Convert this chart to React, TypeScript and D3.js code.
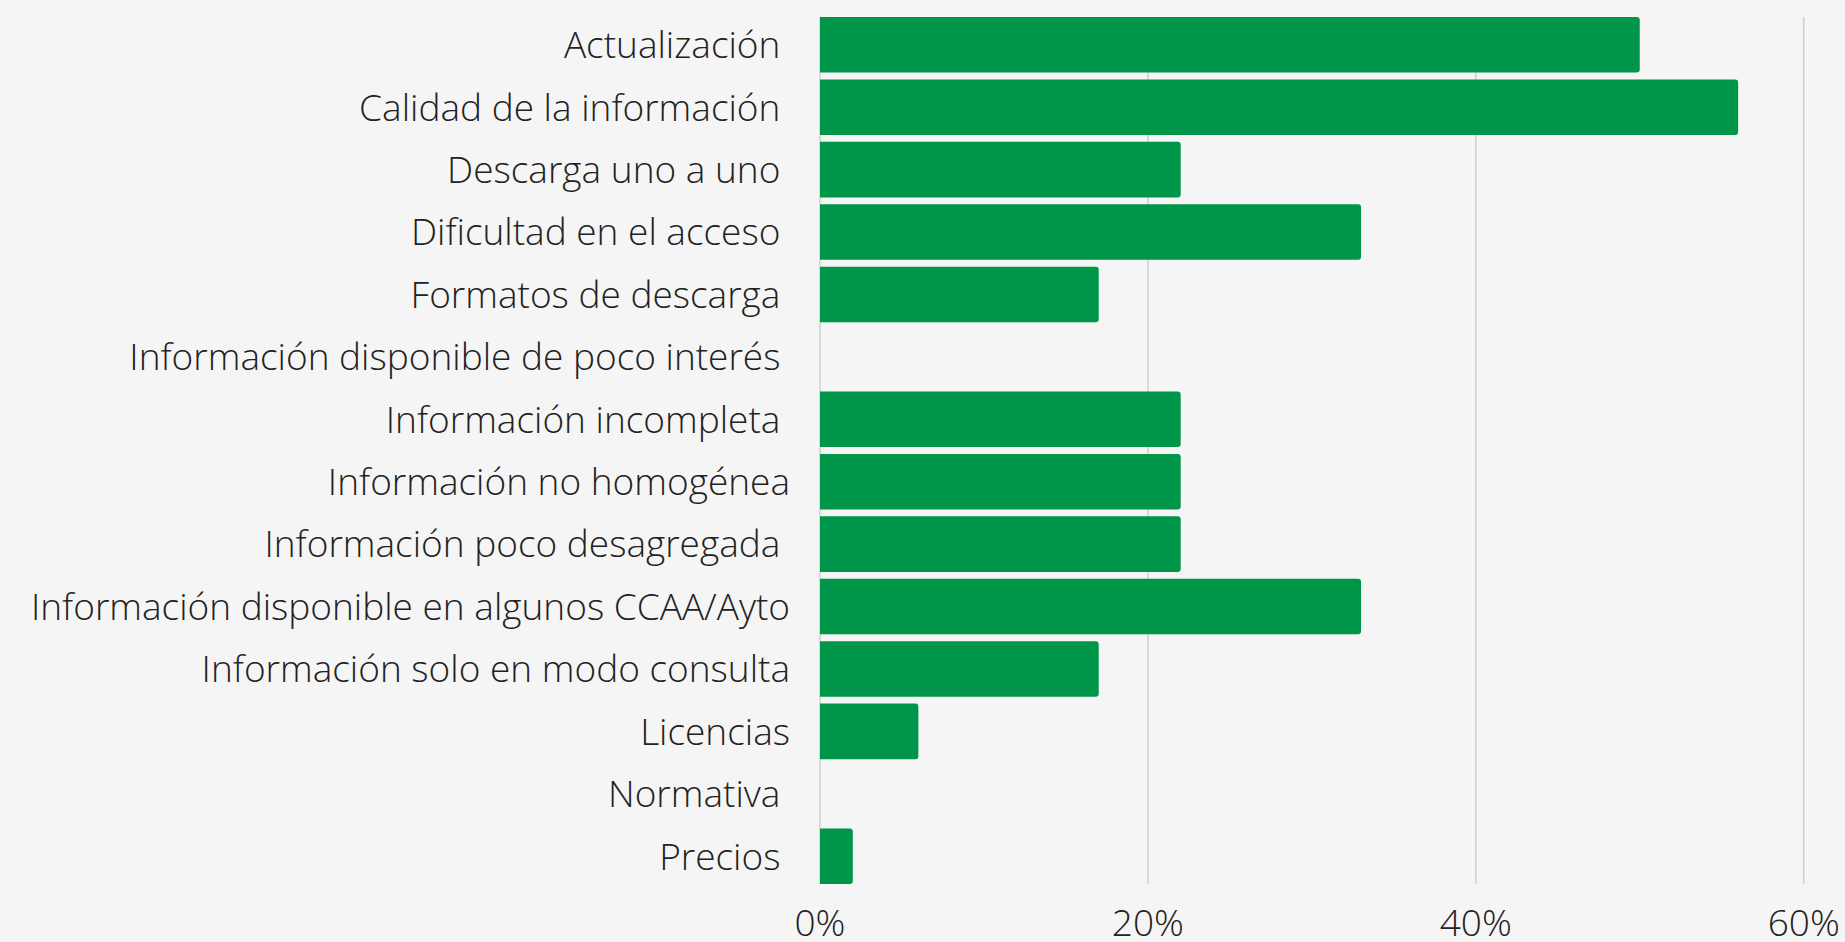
import React, { useEffect, useRef } from 'react';
import * as d3 from 'd3';

// categories (some source labels carry a trailing space)
const categories: string[] = [
  'Actualización ',
  'Calidad de la información ',
  'Descarga uno a uno ',
  'Dificultad en el acceso ',
  'Formatos de descarga ',
  'Información disponible de poco interés ',
  'Información incompleta ',
  'Información no homogénea',
  'Información poco desagregada ',
  'Información disponible en algunos CCAA/Ayto',
  'Información solo en modo consulta',
  'Licencias',
  'Normativa ',
  'Precios ',
];

// percentage of answers
const values: number[] = [50, 56, 22, 33, 17, 0, 22, 22, 22, 33, 17, 6, 0, 2];

const xTicks: number[] = [0, 20, 40, 60];

const W = 1845;
const H = 942;

const App = () => {
  const svgRef = useRef<SVGSVGElement>(null);

  useEffect(() => {
    const svg = d3.select(svgRef.current);
    svg.selectAll('*').remove();

    const left = 820;
    const right = 1803.7;
    const top = 17;
    const bottom = 884;

    const x = d3.scaleLinear().domain([0, 60]).range([left, right]);
    const y = d3.scaleBand<string>()
      .domain(categories)
      .range([top, bottom])
      .paddingInner(0.11)
      .paddingOuter(0);

    svg.append('rect')
      .attr('width', W)
      .attr('height', H)
      .attr('fill', '#f5f5f5');

    // gridlines
    svg.append('g')
      .selectAll('line')
      .data(xTicks)
      .enter().append('line')
      .attr('x1', d => x(d))
      .attr('x2', d => x(d))
      .attr('y1', top)
      .attr('y2', bottom)
      .attr('stroke', '#cfcfcf')
      .attr('stroke-width', 1.5);

    // bars, rounded on the right end
    const r = 3;
    const barPath = (v: number, yy: number, h: number) => {
      const x0 = x(0);
      const x1 = x(v);
      if (x1 - x0 <= 0) return '';
      const rr = Math.min(r, (x1 - x0) / 2);
      return `M${x0},${yy}H${x1 - rr}Q${x1},${yy} ${x1},${yy + rr}V${yy + h - rr}Q${x1},${yy + h} ${x1 - rr},${yy + h}H${x0}Z`;
    };

    svg.append('g')
      .selectAll('path')
      .data(categories)
      .enter().append('path')
      .attr('d', (d, i) => barPath(values[i], y(d)!, y.bandwidth()))
      .attr('fill', '#00964a');

    // category labels
    svg.append('g')
      .selectAll('text')
      .data(categories)
      .enter().append('text')
      .attr('x', left - 30)
      .attr('y', d => y(d)! + y.bandwidth() / 2)
      .attr('dy', '0.36em')
      .attr('text-anchor', 'end')
      .attr('xml:space', 'preserve')
      .style('white-space', 'pre')
      .attr('font-family', '"Open Sans", sans-serif')
      .attr('font-weight', 300)
      .attr('font-size', 37)
      .attr('fill', '#222')
      .text(d => d);

    // x tick labels
    svg.append('g')
      .selectAll('text')
      .data(xTicks)
      .enter().append('text')
      .attr('x', d => x(d))
      .attr('y', 936)
      .attr('text-anchor', 'middle')
      .attr('font-family', '"Open Sans", sans-serif')
      .attr('font-weight', 300)
      .attr('font-size', 37)
      .attr('fill', '#222')
      .text(d => `${d}%`);
  }, []);

  return (
    <div style={{ position: 'absolute', left: 0, top: 0, width: W, height: H }}>
      <svg ref={svgRef} width={W} height={H} style={{ display: 'block' }}></svg>
    </div>
  );
};

export default App;
